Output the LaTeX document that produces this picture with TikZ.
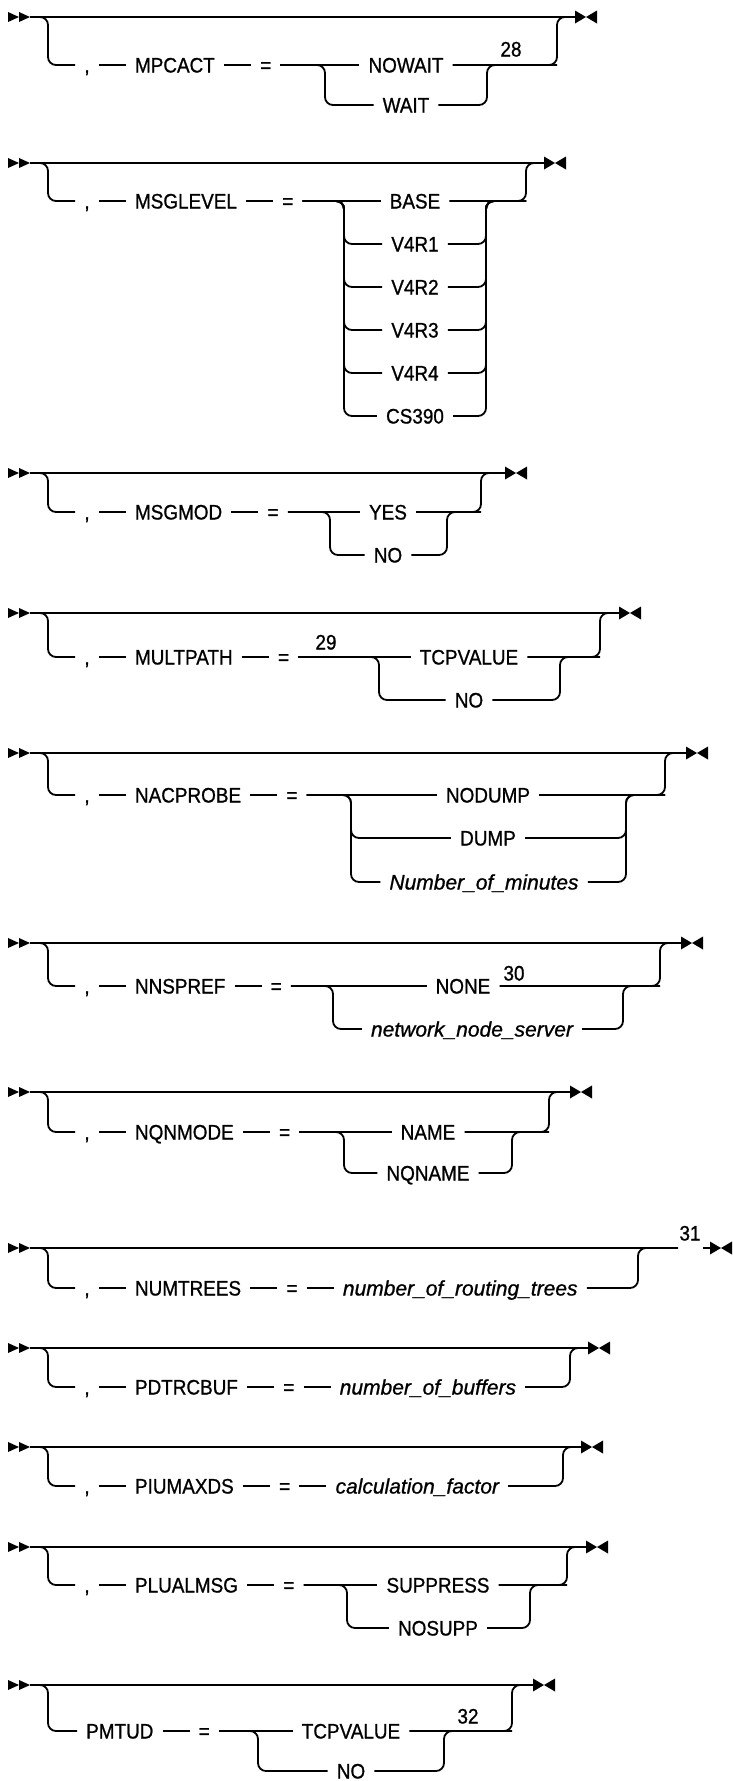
\documentclass[tikz,border=0pt]{standalone}
\usepackage{fontspec}
\setmainfont{Liberation Sans}
\newfontfamily\railfont{Liberation Sans}[FakeStretch=0.9, FakeBold=0.9]
\newfontfamily\argfont{Liberation Sans}[FakeBold=0.9]
\usepackage{tikz}
\usetikzlibrary{positioning, calc}

\tikzset{
  rail/.style={line width=1.8pt},
  rc/.style={rounded corners=8pt},
  kw/.style={inner xsep=9pt, inner ysep=0pt, text height=15pt, text depth=0pt,
             font=\railfont\fontsize{21}{25}\selectfont},
  arg/.style={kw, font=\argfont\fontsize{21}{25}\selectfont\itshape},
  note/.style={kw, inner xsep=2pt},
  startmark/.pic={\fill (0,-5) -- (11,0) -- (0,5) -- cycle
                        (11,-5) -- (22,0) -- (11,5) -- cycle;},
  endmark/.pic={\fill (0,-6.5) -- (11,0) -- (0,6.5) -- cycle
                      (22,-6.5) -- (11,0) -- (22,6.5) -- cycle;}
}

\begin{document}
\begin{tikzpicture}[x=1pt, y=-1pt, node distance=27pt]
  \useasboundingbox (0,0) rectangle (732,1781);

  % MPCACT
  \pic at (8,17) {startmark};
  \coordinate (d1s) at (30,17);
  \coordinate (d1t) at (575,17);
  \pic at (d1t) {endmark};
  \draw[rail] (d1s) -- (d1t);
  \coordinate (d1B) at (48,65);
  \node[kw] (d1c) at (87,65) {,};
  \node[kw, right=of d1c] (d1k) {MPCACT};
  \node[kw, right=of d1k] (d1e) {=};
  \coordinate (d1L) at (325,65);
  \coordinate (d1R) at (487,65);
  \coordinate (d1M) at (557,17);
  \node[kw] (d1o1) at (406,65) {NOWAIT};
  \node[kw] (d1o2) at (406,105) {WAIT};
  \node[note] (d1n) at (511,49) {28};
  \draw[rail, rc] (d1s) -| (d1B) -- (d1c.west);
  \draw[rail] (d1c) -- (d1k) (d1k) -- (d1e) (d1e) -- (d1o1);
  \draw[rail, rc] (d1e.east) -| (d1L |- d1o2) -- (d1o2.west);
  \draw[rail, rc] (d1o2.east) -| (d1R) -- (d1M |- d1R);
  \draw[rail, rc] (d1o1.east) -| (d1M) -- (d1t);

  % MSGLEVEL
  \pic at (8,163) {startmark};
  \coordinate (d2s) at (30,163);
  \coordinate (d2t) at (544,163);
  \pic at (d2t) {endmark};
  \draw[rail] (d2s) -- (d2t);
  \coordinate (d2B) at (48,201);
  \node[kw] (d2c) at (87,201) {,};
  \node[kw, right=of d2c] (d2k) {MSGLEVEL};
  \node[kw, right=of d2k] (d2e) {=};
  \coordinate (d2L) at (344,201);
  \coordinate (d2R) at (486,201);
  \coordinate (d2M) at (526,163);
  \node[kw] (d2o1) at (415,201) {BASE};
  \draw[rail, rc] (d2s) -| (d2B) -- (d2c.west);
  \draw[rail] (d2c) -- (d2k) (d2k) -- (d2e) (d2e) -- (d2o1);
  \draw[rail, rc] (d2o1.east) -| (d2M) -- (d2t);
  \foreach \v [count=\i from 2] in {V4R1,V4R2,V4R3,V4R4,CS390} {
    \node[kw] (d2o\i) at (415,{201+43*(\i-1)}) {\v};
    \draw[rail, rc] (d2e.east) -| (d2L |- d2o\i) -- (d2o\i.west);
    \draw[rail, rc] (d2o\i.east) -| (d2R) -- (d2M |- d2R);
  }

  % MSGMOD
  \pic at (8,473) {startmark};
  \coordinate (d3s) at (30,473);
  \coordinate (d3t) at (505,473);
  \pic at (d3t) {endmark};
  \draw[rail] (d3s) -- (d3t);
  \coordinate (d3B) at (48,512);
  \node[kw] (d3c) at (87,512) {,};
  \node[kw, right=of d3c] (d3k) {MSGMOD};
  \node[kw, right=of d3k] (d3e) {=};
  \coordinate (d3L) at (330,512);
  \coordinate (d3R) at (447,512);
  \coordinate (d3M) at (481,473);
  \node[kw] (d3o1) at (388,512) {YES};
  \node[kw] (d3o2) at (388,555) {NO};
  \draw[rail, rc] (d3s) -| (d3B) -- (d3c.west);
  \draw[rail] (d3c) -- (d3k) (d3k) -- (d3e) (d3e) -- (d3o1);
  \draw[rail, rc] (d3e.east) -| (d3L |- d3o2) -- (d3o2.west);
  \draw[rail, rc] (d3o2.east) -| (d3R) -- (d3M |- d3R);
  \draw[rail, rc] (d3o1.east) -| (d3M) -- (d3t);

  % MULTPATH
  \pic at (8,613) {startmark};
  \coordinate (d4s) at (30,613);
  \coordinate (d4t) at (619,613);
  \pic at (d4t) {endmark};
  \draw[rail] (d4s) -- (d4t);
  \coordinate (d4B) at (48,657);
  \node[kw] (d4c) at (87,657) {,};
  \node[kw, right=of d4c] (d4k) {MULTPATH};
  \node[kw, right=of d4k] (d4e) {=};
  \node[note] (d4n) at (326,642) {29};
  \coordinate (d4L) at (379,657);
  \coordinate (d4R) at (560,657);
  \coordinate (d4M) at (600,613);
  \node[kw] (d4o1) at (469,657) {TCPVALUE};
  \node[kw] (d4o2) at (469,700) {NO};
  \draw[rail, rc] (d4s) -| (d4B) -- (d4c.west);
  \draw[rail] (d4c) -- (d4k) (d4k) -- (d4e) (d4e) -- (d4o1);
  \draw[rail, rc] (d4e.east) -| (d4L |- d4o2) -- (d4o2.west);
  \draw[rail, rc] (d4o2.east) -| (d4R) -- (d4M |- d4R);
  \draw[rail, rc] (d4o1.east) -| (d4M) -- (d4t);

  % NACPROBE
  \pic at (8,753) {startmark};
  \coordinate (d5s) at (30,753);
  \coordinate (d5t) at (686,753);
  \pic at (d5t) {endmark};
  \draw[rail] (d5s) -- (d5t);
  \coordinate (d5B) at (48,795);
  \node[kw] (d5c) at (87,795) {,};
  \node[kw, right=of d5c] (d5k) {NACPROBE};
  \node[kw, right=of d5k] (d5e) {=};
  \coordinate (d5L) at (351,795);
  \coordinate (d5R) at (626,795);
  \coordinate (d5M) at (665,753);
  \node[kw] (d5o1) at (488,795) {NODUMP};
  \node[kw] (d5o2) at (488,838) {DUMP};
  \node[arg] (d5o3) at (484,882) {Number\_of\_minutes};
  \draw[rail, rc] (d5s) -| (d5B) -- (d5c.west);
  \draw[rail] (d5c) -- (d5k) (d5k) -- (d5e) (d5e) -- (d5o1);
  \draw[rail, rc] (d5e.east) -| (d5L |- d5o2) -- (d5o2.west);
  \draw[rail, rc] (d5e.east) -| (d5L |- d5o3) -- (d5o3.west);
  \draw[rail, rc] (d5o2.east) -| (d5R) -- (d5M |- d5R);
  \draw[rail, rc] (d5o3.east) -| (d5R) -- (d5M |- d5R);
  \draw[rail, rc] (d5o1.east) -| (d5M) -- (d5t);

  % NNSPREF
  \pic at (8,943) {startmark};
  \coordinate (d6s) at (30,943);
  \coordinate (d6t) at (681,943);
  \pic at (d6t) {endmark};
  \draw[rail] (d6s) -- (d6t);
  \coordinate (d6B) at (48,986);
  \node[kw] (d6c) at (87,986) {,};
  \node[kw, right=of d6c] (d6k) {NNSPREF};
  \node[kw, right=of d6k] (d6e) {=};
  \coordinate (d6L) at (333,986);
  \coordinate (d6R) at (623,986);
  \coordinate (d6M) at (660,943);
  \node[kw] (d6o1) at (463,986) {NONE};
  \node[note] (d6n) at (514,973) {30};
  \node[arg] (d6o2) at (472,1029) {network\_node\_server};
  \draw[rail, rc] (d6s) -| (d6B) -- (d6c.west);
  \draw[rail] (d6c) -- (d6k) (d6k) -- (d6e) (d6e) -- (d6o1);
  \draw[rail, rc] (d6e.east) -| (d6L |- d6o2) -- (d6o2.west);
  \draw[rail, rc] (d6o2.east) -| (d6R) -- (d6M |- d6R);
  \draw[rail, rc] (d6o1.east) -| (d6M) -- (d6t);

  % NQNMODE
  \pic at (8,1092) {startmark};
  \coordinate (d7s) at (30,1092);
  \coordinate (d7t) at (570,1092);
  \pic at (d7t) {endmark};
  \draw[rail] (d7s) -- (d7t);
  \coordinate (d7B) at (48,1132);
  \node[kw] (d7c) at (87,1132) {,};
  \node[kw, right=of d7c] (d7k) {NQNMODE};
  \node[kw, right=of d7k] (d7e) {=};
  \coordinate (d7L) at (344,1132);
  \coordinate (d7R) at (512,1132);
  \coordinate (d7M) at (549,1092);
  \node[kw] (d7o1) at (428,1132) {NAME};
  \node[kw] (d7o2) at (428,1173) {NQNAME};
  \draw[rail, rc] (d7s) -| (d7B) -- (d7c.west);
  \draw[rail] (d7c) -- (d7k) (d7k) -- (d7e) (d7e) -- (d7o1);
  \draw[rail, rc] (d7e.east) -| (d7L |- d7o2) -- (d7o2.west);
  \draw[rail, rc] (d7o2.east) -| (d7R) -- (d7M |- d7R);
  \draw[rail, rc] (d7o1.east) -| (d7M) -- (d7t);

  % NUMTREES
  \pic at (8,1248) {startmark};
  \coordinate (d8s) at (30,1248);
  \coordinate (d8a) at (678,1248);
  \coordinate (d8b) at (703,1248);
  \coordinate (d8t) at (710,1248);
  \node[note] (d8n) at (690,1233) {31};
  \pic at (d8t) {endmark};
  \draw[rail] (d8s) -- (d8a) (d8b) -- (d8t);
  \coordinate (d8B) at (48,1288);
  \node[kw] (d8c) at (87,1288) {,};
  \node[kw, right=of d8c] (d8k) {NUMTREES};
  \node[kw, right=of d8k] (d8e) {=};
  \node[arg, right=of d8e] (d8o1) {number\_of\_routing\_trees};
  \coordinate (d8M) at (638,1248);
  \draw[rail, rc] (d8s) -| (d8B) -- (d8c.west);
  \draw[rail] (d8c) -- (d8k) (d8k) -- (d8e) (d8e) -- (d8o1);
  \draw[rail, rc] (d8o1.east) -| (d8M) -- (d8a);

  % PDTRCBUF
  \pic at (8,1348) {startmark};
  \coordinate (d9s) at (30,1348);
  \coordinate (d9t) at (588,1348);
  \pic at (d9t) {endmark};
  \draw[rail] (d9s) -- (d9t);
  \coordinate (d9B) at (48,1387);
  \node[kw] (d9c) at (87,1387) {,};
  \node[kw, right=of d9c] (d9k) {PDTRCBUF};
  \node[kw, right=of d9k] (d9e) {=};
  \node[arg, right=of d9e] (d9o1) {number\_of\_buffers};
  \coordinate (d9M) at (570,1348);
  \draw[rail, rc] (d9s) -| (d9B) -- (d9c.west);
  \draw[rail] (d9c) -- (d9k) (d9k) -- (d9e) (d9e) -- (d9o1);
  \draw[rail, rc] (d9o1.east) -| (d9M) -- (d9t);

  % PIUMAXDS
  \pic at (8,1447) {startmark};
  \coordinate (d10s) at (30,1447);
  \coordinate (d10t) at (581,1447);
  \pic at (d10t) {endmark};
  \draw[rail] (d10s) -- (d10t);
  \coordinate (d10B) at (48,1486);
  \node[kw] (d10c) at (87,1486) {,};
  \node[kw, right=of d10c] (d10k) {PIUMAXDS};
  \node[kw, right=of d10k] (d10e) {=};
  \node[arg, right=of d10e] (d10o1) {calculation\_factor};
  \coordinate (d10M) at (563,1447);
  \draw[rail, rc] (d10s) -| (d10B) -- (d10c.west);
  \draw[rail] (d10c) -- (d10k) (d10k) -- (d10e) (d10e) -- (d10o1);
  \draw[rail, rc] (d10o1.east) -| (d10M) -- (d10t);

  % PLUALMSG
  \pic at (8,1547) {startmark};
  \coordinate (d11s) at (30,1547);
  \coordinate (d11t) at (586,1547);
  \pic at (d11t) {endmark};
  \draw[rail] (d11s) -- (d11t);
  \coordinate (d11B) at (48,1585);
  \node[kw] (d11c) at (87,1585) {,};
  \node[kw, right=of d11c] (d11k) {PLUALMSG};
  \node[kw, right=of d11k] (d11e) {=};
  \coordinate (d11L) at (347,1585);
  \coordinate (d11R) at (530,1585);
  \coordinate (d11M) at (567,1547);
  \node[kw] (d11o1) at (438,1585) {SUPPRESS};
  \node[kw] (d11o2) at (438,1628) {NOSUPP};
  \draw[rail, rc] (d11s) -| (d11B) -- (d11c.west);
  \draw[rail] (d11c) -- (d11k) (d11k) -- (d11e) (d11e) -- (d11o1);
  \draw[rail, rc] (d11e.east) -| (d11L |- d11o2) -- (d11o2.west);
  \draw[rail, rc] (d11o2.east) -| (d11R) -- (d11M |- d11R);
  \draw[rail, rc] (d11o1.east) -| (d11M) -- (d11t);

  % PMTUD
  \pic at (8,1685) {startmark};
  \coordinate (d12s) at (30,1685);
  \coordinate (d12t) at (533,1685);
  \pic at (d12t) {endmark};
  \draw[rail] (d12s) -- (d12t);
  \coordinate (d12B) at (48,1731);
  \node[kw, anchor=west] (d12k) at (77,1731) {PMTUD};
  \node[kw, right=of d12k] (d12e) {=};
  \coordinate (d12L) at (258,1731);
  \coordinate (d12R) at (444,1731);
  \coordinate (d12M) at (512,1685);
  \node[kw] (d12o1) at (351,1731) {TCPVALUE};
  \node[kw] (d12o2) at (351,1771) {NO};
  \node[note] (d12n) at (468,1716) {32};
  \draw[rail, rc] (d12s) -| (d12B) -- (d12k.west);
  \draw[rail] (d12k) -- (d12e) (d12e) -- (d12o1);
  \draw[rail, rc] (d12e.east) -| (d12L |- d12o2) -- (d12o2.west);
  \draw[rail, rc] (d12o2.east) -| (d12R) -- (d12M |- d12R);
  \draw[rail, rc] (d12o1.east) -| (d12M) -- (d12t);
\end{tikzpicture}
\end{document}
